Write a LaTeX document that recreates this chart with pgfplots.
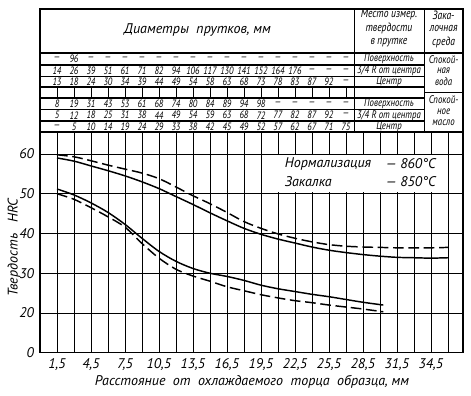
\documentclass[border=0pt]{standalone}
\usepackage{pgfplots}
\pgfplotsset{compat=1.18}
\usepackage{fontspec}
\setmainfont{PT Sans}
\newfontfamily\narrowfont{PT Sans}[FakeStretch=0.8]
\begin{document}
\begin{tikzpicture}
\begin{axis}[
  x=8.4975pt, y=2.98125pt,
  xmin=0, xmax=37.33, ymin=10, ymax=65.53,
  clip=false,
  axis line style={line width=1pt},
  xtick={1.5,3,4.5,6,7.5,9,10.5,12,13.5,15,16.5,18,19.5,21,22.5,24,25.5,27,28.5,30,31.5,33,34.5,36},
  xticklabels={{1,5},{},{4,5},{},{7,5},{},{10,5},{},{13,5},{},{16,5},{},{19,5},{},{22,5},{},{25,5},{},{28,5},{},{31,5},{},{34,5},{}},
  ytick={10,20,30,40,50,60},
  yticklabels={0,20,30,40,50,60},
  major tick length=0pt,
  xmajorgrids, ymajorgrids,
  grid style={black, line width=0.55pt},
  tick label style={font=\itshape\fontsize{10.5}{12}\selectfont},
  yticklabel style={xshift=-1pt},
  xticklabel style={yshift=-1pt},
]
% upper solid
\addplot[black, line width=1.1pt, smooth] coordinates {
(1.5,59.0)(3,58.2)(4.5,57.0)(6,55.8)(7.5,54.5)(9,53.0)(10.5,51.3)(12,49.3)(13.5,47.3)(15,45.2)(16.5,43.2)(18,41.3)(19.5,39.8)(21,38.6)(22.5,37.6)(24,36.6)(25.5,35.8)(27,35.2)(28.5,34.7)(30,34.3)(31.5,34.0)(33,33.9)(34.5,33.8)(36,33.9)};
% upper dashed
\addplot[black, line width=1.1pt, smooth, dash pattern=on 8pt off 3.5pt] coordinates {
(1.5,59.8)(3,59.3)(4.5,58.3)(6,57.2)(7.5,56.2)(9,55.2)(10.5,53.8)(12,51.7)(13.5,49.5)(15,47.5)(16.5,45.3)(18,43.0)(19.5,41.3)(21,39.9)(22.5,38.8)(24,37.9)(25.5,37.2)(27,36.8)(28.5,36.6)(30,36.5)(31.5,36.4)(33,36.4)(34.5,36.4)(36,36.5)};
% lower solid
\addplot[black, line width=1.1pt, smooth] coordinates {
(1.5,51.2)(3,49.7)(4.5,47.7)(6,45.3)(7.5,42.3)(9,38.8)(10.5,35.5)(12,33.0)(13.5,31.2)(15,30.0)(16.5,29.2)(18,28.2)(19.5,27.0)(21,26.1)(22.5,25.4)(24,24.7)(25.5,24.1)(27,23.4)(28.5,22.7)(30.3,22.0)};
% lower dashed
\addplot[black, line width=1.1pt, smooth, dash pattern=on 8pt off 3.5pt] coordinates {
(1.5,50.0)(3,48.6)(4.5,46.5)(6,44.2)(7.5,41.6)(9,37.5)(10.5,33.8)(12,31.0)(13.5,29.3)(15,28.0)(16.5,26.6)(18,25.6)(19.5,24.6)(21,23.8)(22.5,23.1)(24,22.6)(25.5,22.0)(27,21.5)(28.5,21.0)(30.3,20.3)};
\end{axis}
\begin{scope}[x=8.4975pt, y=2.98125pt, yshift=-29.8125pt]
% bounding box
\path (-3.53,-0.88) rectangle (38.04,98.74);
% legend box
\fill[white] (20.2,50.35) rectangle (35.6,59.65);
\begin{scope}[font=\itshape\fontsize{10.5}{12}\selectfont]
\node[anchor=west] at (21.2,57.6) {Нормализация};
\node[anchor=west] at (30.1,57.6) {— 860°C};
\node[anchor=west] at (21.2,53.1) {Закалка};
\node[anchor=west] at (30.1,53.1) {— 850°C};
\node at (18.7,2.6) {Расстояние\ \ от\ \ охлаждаемого\ \ торца\ \ образца,\ мм};
\node[rotate=90] at (-2.3,36.5) {Твердость\ \ \ HRC};
\end{scope}
% table lines
\begin{scope}[line width=0.8pt]
\draw[line width=1pt] (0,65.53) rectangle (37.33,96.48);
\draw[line width=1.3pt] (0,85.41) -- (37.33,85.41);
\foreach \yy in {82.39,79.50,76.86,74.09,71.19,68.30} \draw (0,\yy) -- (33.9,\yy);
\draw (33.9,75.5) -- (37.33,75.5);
\draw (27.75,65.53) -- (27.75,96.48);
\draw (33.9,65.53) -- (33.9,96.48);
\end{scope}
\foreach \xx in {1.5,3,...,27} \draw[line width=0.55pt] (\xx,74.09) -- (\xx,76.86);
% header
\begin{scope}[font=\itshape\fontsize{10.5}{12}\selectfont]
\node at (13.9,91.2) {Диаметры\ \ прутков,\ мм};
\end{scope}
\begin{scope}[font=\narrowfont\itshape\fontsize{9}{10}\selectfont, every node/.style={inner sep=0pt}]
\node at (30.8,95.0) {Место измер.};
\node at (30.8,91.5) {твердости};
\node at (30.8,88.0) {в прутке};
\node at (35.62,95.0) {Зака-};
\node at (35.62,91.5) {лочная};
\node at (35.62,88.0) {среда};
\end{scope}
\begin{scope}[font=\narrowfont\itshape\fontsize{8.3}{9}\selectfont, every node/.style={inner sep=0pt}]
\node at (35.62,83.7) {Спокой-};
\node at (35.62,80.9) {ная};
\node at (35.62,78.1) {вода};
\node at (35.62,73.6) {Спокой-};
\node at (35.62,70.7) {ное};
\node at (35.62,67.8) {масло};
\end{scope}
\begin{scope}[font=\narrowfont\itshape\fontsize{8.2}{9}\selectfont, every node/.style={inner sep=0pt}]
\node at (30.8,83.9) {Поверхность};
\node at (30.8,80.95) {3/4 R от центра};
\node at (30.8,78.18) {Центр};
\node at (30.8,72.64) {Поверхность};
\node at (30.8,69.75) {3/4 R от центра};
\node at (30.8,66.9) {Центр};
\end{scope}
\begin{scope}[font=\narrowfont\itshape\fontsize{8}{9}\selectfont]
\foreach \v [count=\i] in {—,96,—,—,—,—,—,—,—,—,—,—,—,—,—,—,—,—}
  \node[inner sep=0pt] at ({1.5*\i},83.9) {\v};
\foreach \v [count=\i] in {14,26,39,51,61,71,82,94,106,117,130,141,152,164,176,—,—,—}
  \node[inner sep=0pt] at ({1.5*\i},80.95) {\v};
\foreach \v [count=\i] in {13,18,24,30,34,39,44,49,54,58,63,68,73,78,83,87,92,—}
  \node[inner sep=0pt] at ({1.5*\i},78.18) {\v};
\foreach \v [count=\i] in {8,19,31,43,53,61,68,74,80,84,89,94,98,—,—,—,—,—}
  \node[inner sep=0pt] at ({1.5*\i},72.64) {\v};
\foreach \v [count=\i] in {5,12,18,25,31,38,44,49,54,59,63,68,72,77,82,87,92,—}
  \node[inner sep=0pt] at ({1.5*\i},69.75) {\v};
\foreach \v [count=\i] in {—,5,10,14,19,24,29,33,38,42,45,49,52,57,62,67,71,75}
  \node[inner sep=0pt] at ({1.5*\i},66.9) {\v};
\end{scope}
\end{scope}
\end{tikzpicture}
\end{document}
